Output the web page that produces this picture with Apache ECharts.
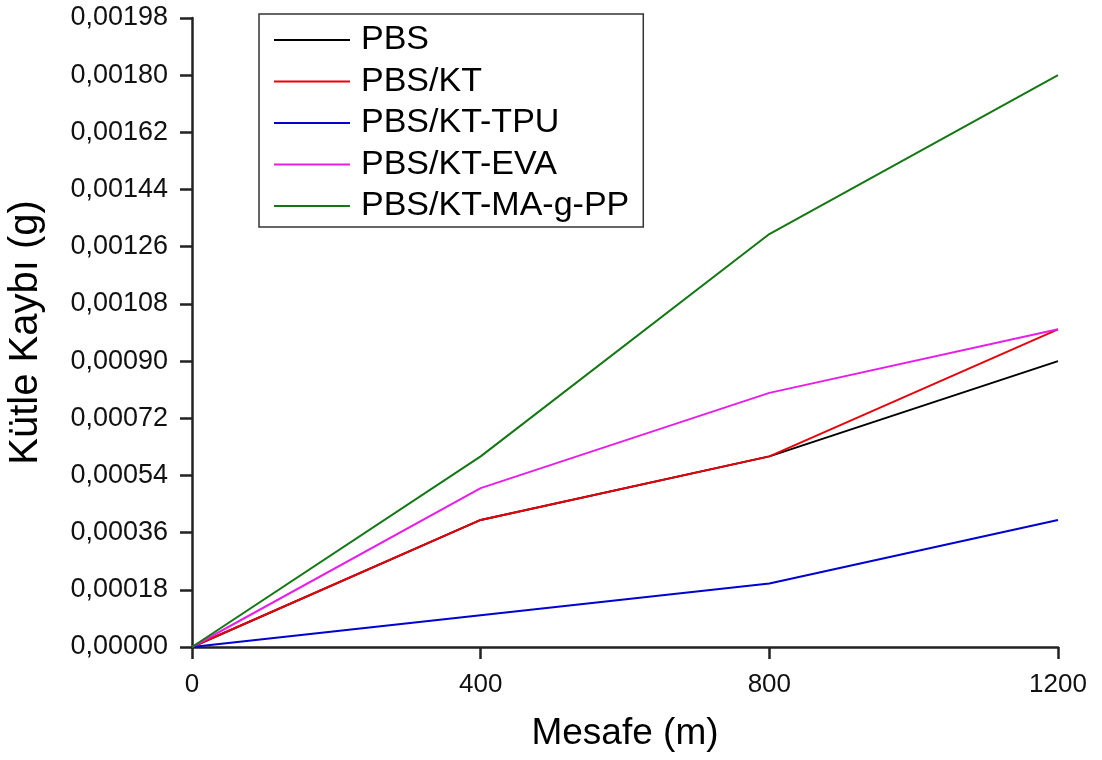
<!DOCTYPE html>
<html>
<head>
<meta charset="utf-8">
<script src="https://cdn.jsdelivr.net/npm/echarts@6/dist/echarts.min.js"></script>
<style>html,body{margin:0;padding:0;background:#fff}#c{width:1102px;height:760px}</style>
</head>
<body>
<div id="c"></div>
<script>
const distances = [0, 400, 800, 1200];
const seriesNames = ['PBS', 'PBS/KT', 'PBS/KT-TPU', 'PBS/KT-EVA', 'PBS/KT-MA-g-PP'];
const pbs = [0, 0.0004, 0.0006, 0.0009];
const pbsKt = [0, 0.0004, 0.0006, 0.0010];
const pbsKtTpu = [0, 0.0001, 0.0002, 0.0004];
const pbsKtEva = [0, 0.0005, 0.0008, 0.0010];
const pbsKtMaGPp = [0, 0.0006, 0.0013, 0.0018];
const colors = ['#000000', '#e8000b', '#0000d0', '#e81ee8', '#137813'];
const allValues = [pbs, pbsKt, pbsKtTpu, pbsKtEva, pbsKtMaGPp];

const chart = echarts.init(document.getElementById('c'));
const font = 'Liberation Sans, Arial, sans-serif';
chart.setOption({
  animation: false,
  backgroundColor: '#fff',
  grid: {left: 192, top: 18, right: 44, bottom: 113, containLabel: false, outerBoundsMode: 'none'},
  legend: {
    orient: 'vertical', left: 259, top: 14,
    icon: 'rect', itemWidth: 76, itemHeight: 2, itemGap: 5.5,
    padding: [8, 14, 3, 15],
    borderColor: '#333', borderWidth: 1.5, borderRadius: 0,
    textStyle: {fontFamily: font, fontSize: 34, color: '#000', lineHeight: 36, padding: [0, 0, 0, 6]},
    data: seriesNames
  },
  xAxis: {
    type: 'value', min: 0, max: 1200, interval: 400,
    name: 'Mesafe (m)', nameLocation: 'middle', nameGap: 68,
    nameTextStyle: {fontFamily: font, fontSize: 37, color: '#000'},
    axisLine: {show: true, onZero: false, lineStyle: {color: '#222', width: 2.5}},
    axisTick: {show: true, inside: false, length: 12, lineStyle: {color: '#222', width: 2.5}},
    axisLabel: {fontFamily: font, fontSize: 26, color: '#111', margin: 25,
      formatter: v => String(v)},
    splitLine: {show: false}
  },
  yAxis: {
    type: 'value', min: 0, max: 0.00198, interval: 0.00018,
    name: 'Kütle Kaybı (g)', nameLocation: 'middle', nameGap: 146, nameRotate: 90,
    nameTextStyle: {fontFamily: font, fontSize: 40, color: '#000'},
    axisLine: {show: true, lineStyle: {color: '#222', width: 2.5}},
    axisTick: {show: true, inside: false, length: 12, lineStyle: {color: '#222', width: 2.5}},
    axisLabel: {fontFamily: font, fontSize: 27, color: '#111', margin: 24,
      formatter: v => v.toFixed(5).replace('.', ',')},
    splitLine: {show: false}
  },
  series: seriesNames.map((n, i) => ({
    name: n, type: 'line', symbol: 'none', color: colors[i],
    lineStyle: {width: 2, color: colors[i]},
    data: distances.map((d, j) => [d, allValues[i][j]])
  }))
});
</script>
</body>
</html>
